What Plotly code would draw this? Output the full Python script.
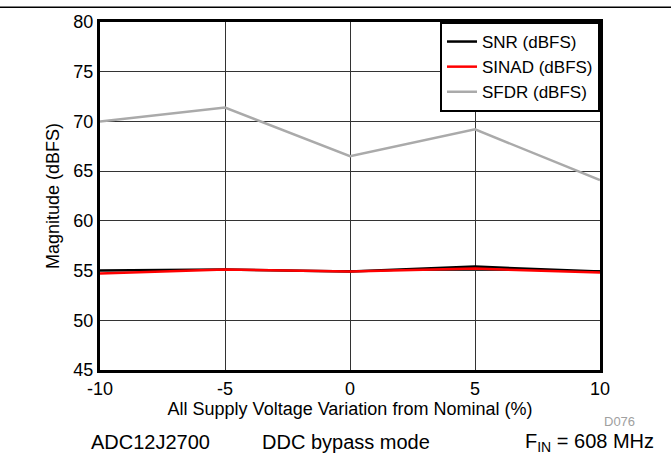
import plotly.graph_objects as go

variation = [-10, -5, 0, 5, 10]
snr = [55.0, 55.1, 54.9, 55.4, 54.9]
sinad = [54.7, 55.1, 54.9, 55.2, 54.8]
sfdr = [70.0, 71.4, 66.5, 69.2, 64.1]

x_ticks = [-10, -5, 0, 5, 10]
y_ticks = [45, 50, 55, 60, 65, 70, 75, 80]

fig = go.Figure()
fig.add_trace(go.Scatter(x=variation, y=snr, mode="lines", name="SNR (dBFS)",
                         line=dict(color="black", width=2.5)))
fig.add_trace(go.Scatter(x=variation, y=sinad, mode="lines", name="SINAD (dBFS)",
                         line=dict(color="#ff0000", width=2.5)))
fig.add_trace(go.Scatter(x=variation, y=sfdr, mode="lines", name="SFDR (dBFS)",
                         line=dict(color="#aaaaaa", width=2.5)))

font_family = "Liberation Sans, Arial, sans-serif"

fig.update_layout(
    width=671, height=461,
    margin=dict(l=100, r=71, t=17, b=91),
    paper_bgcolor="white", plot_bgcolor="white",
    font=dict(family=font_family, color="black", size=18),
    showlegend=True,
    legend=dict(x=1, y=1, xanchor="right", yanchor="top",
                bordercolor="black", borderwidth=2, bgcolor="white",
                font=dict(size=17), tracegroupgap=0, itemwidth=30),
    xaxis=dict(range=[-10, 10], tickvals=x_ticks, ticktext=[str(v) for v in x_ticks],
               showgrid=True, gridcolor="#333333", gridwidth=1,
               showline=True, linecolor="black", linewidth=3, mirror=True,
               zeroline=False, ticks="", tickfont=dict(size=18),
               title=dict(text="All Supply Voltage Variation from Nominal (%)",
                          font=dict(size=18), standoff=0)),
    yaxis=dict(range=[45, 80], tickvals=y_ticks, ticktext=[str(v) for v in y_ticks],
               showgrid=True, gridcolor="#333333", gridwidth=1,
               showline=True, linecolor="black", linewidth=3, mirror=True,
               zeroline=False, ticks="", tickfont=dict(size=18),
               title=dict(text="Magnitude (dBFS)", font=dict(size=18), standoff=10)),
    shapes=[dict(type="line", xref="paper", yref="paper",
                 x0=-0.2, x1=1.142, y0=1.0425, y1=1.0425,
                 line=dict(color="black", width=1.5))],
    annotations=[
        dict(text="D076", xref="paper", yref="paper", x=1.004, y=-0.147,
             xanchor="left", yanchor="middle", showarrow=False,
             font=dict(size=13, color="#a0a0a0")),
        dict(text="ADC12J2700", xref="paper", yref="paper", x=-0.022, y=-0.207,
             xanchor="left", yanchor="middle", showarrow=False, font=dict(size=20)),
        dict(text="DDC bypass mode", xref="paper", yref="paper", x=0.492, y=-0.207,
             xanchor="center", yanchor="middle", showarrow=False, font=dict(size=20)),
        dict(text="F<sub>IN</sub> = 608 MHz", xref="paper", yref="paper", x=1.112, y=-0.207,
             xanchor="right", yanchor="middle", showarrow=False, font=dict(size=20)),
    ],
)

fig.write_html("out.html",
               config={"displayModeBar": False},
               post_script="document.body.style.margin='0';document.body.style.padding='0';document.body.style.overflow='hidden';")
